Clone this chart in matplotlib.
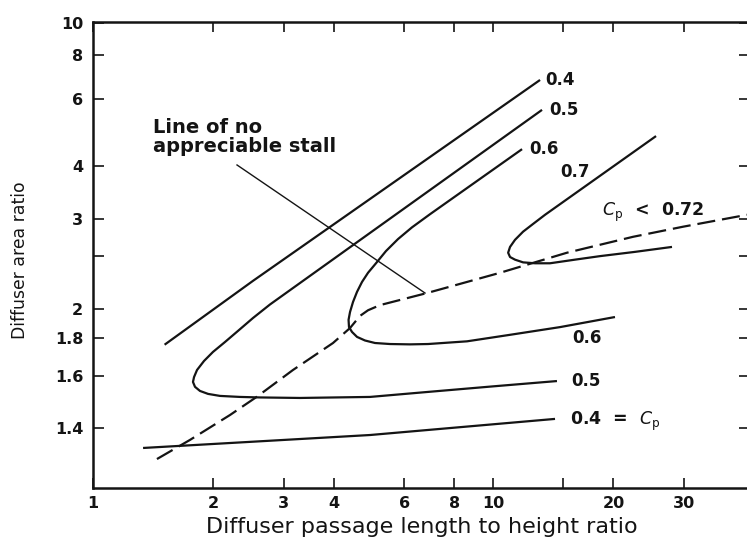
import numpy as np
import matplotlib
matplotlib.use("Agg")
import matplotlib.pyplot as plt
from matplotlib.ticker import FixedLocator, FixedFormatter, NullLocator

plt.rcParams['lines.scale_dashes'] = False
plt.rcParams['font.family'] = ['DejaVu Sans']
plt.rcParams['mathtext.fontset'] = 'dejavusans'

# ---------------- data ----------------
# Cp = 0.4 upper branch
cp04_up_x = [1.51, 2.51, 13.11]
cp04_up_y = [1.76, 2.24, 6.80]
# Cp = 0.5 (upper branch -> nose -> lower branch)
cp05_x = [13.26, 2.77, 2.512, 2.304, 2.138, 1.995, 1.895, 1.820, 1.789, 1.778, 1.799, 1.851,
          1.939, 2.077, 2.331, 2.615, 3.292, 4.927, 6.88, 10.0, 14.45]
cp05_y = [5.61, 2.035, 1.933, 1.845, 1.776, 1.719, 1.671, 1.626, 1.593, 1.571, 1.550, 1.533,
          1.521, 1.513, 1.509, 1.507, 1.505, 1.509, 1.529, 1.552, 1.575]
# Cp = 0.6
cp06_x = [11.82, 6.96, 6.27, 5.788, 5.401, 5.098, 4.870, 4.704, 4.571, 4.467, 4.391, 4.354,
          4.365, 4.442, 4.571, 4.786, 5.07, 5.527, 6.20, 6.88, 8.61, 11.03, 14.71, 20.18]
cp06_y = [4.41, 3.07, 2.87, 2.71, 2.56, 2.42, 2.32, 2.23, 2.14, 2.055, 1.977, 1.92,
          1.87, 1.838, 1.807, 1.785, 1.770, 1.764, 1.762, 1.764, 1.78, 1.82, 1.87, 1.94]
# Cp = 0.7
cp07_x = [25.56, 13.49, 12.59, 11.89, 11.35, 11.03, 10.91, 11.03, 11.35, 11.89, 12.74, 13.88,
          16.03, 18.51, 22.65, 28.02]
cp07_y = [4.77, 3.06, 2.92, 2.81, 2.70, 2.61, 2.54, 2.49, 2.46, 2.43, 2.42, 2.42,
          2.46, 2.50, 2.55, 2.61]
# Cp = 0.4 lower branch
cp04_lo_x = [1.334, 4.93, 14.29]
cp04_lo_y = [1.344, 1.38, 1.43]
# Line of no appreciable stall (dashed)
stall_x = [1.445, 1.748, 2.200, 2.570, 3.162, 3.981, 4.391, 4.651, 4.870, 5.218, 6.839, 10.41,
           15.31, 22.39, 29.85, 43.15]
stall_y = [1.316, 1.366, 1.443, 1.51, 1.626, 1.77, 1.864, 1.948, 1.99, 2.03, 2.13, 2.32,
           2.54, 2.74, 2.88, 3.06]
# leader line of the annotation
leader_x = [2.291, 6.761]
leader_y = [4.02, 2.13]

x_ticks = [1, 2, 3, 4, 6, 8, 10, 15, 20, 30]
x_labels = ['1', '2', '3', '4', '6', '8', '10', '', '20', '30']
y_ticks = [1.4, 1.6, 1.8, 2, 2.5, 3, 4, 6, 8, 10]
y_labels = ['1.4', '1.6', '1.8', '2', '', '3', '4', '6', '8', '10']

# ---------------- figure ----------------
W, H = 747, 541
fig = plt.figure(figsize=(W / 100, H / 100), dpi=100)
ax = fig.add_axes([93 / W, 1 - 488 / H, (750 - 93) / W, (488 - 22) / H])


def fwd(y):
    y = np.asarray(y, dtype=float)
    return np.log10(np.maximum(y - 1.0, 1e-9))


def inv(v):
    return 10 ** np.asarray(v, dtype=float) + 1.0


ax.set_xscale('log')
ax.set_yscale('function', functions=(fwd, inv))
ax.set_xlim(1, 43.9)
ax.set_ylim(1.253, 10.05)

ink = '#141414'
lw = 1.6
common = dict(color=ink, lw=lw, solid_joinstyle='round', solid_capstyle='butt')
ax.plot(cp04_up_x, cp04_up_y, **common)
ax.plot(cp05_x, cp05_y, **common)
ax.plot(cp06_x, cp06_y, **common)
ax.plot(cp07_x, cp07_y, **common)
ax.plot(cp04_lo_x, cp04_lo_y, **common)
ax.plot(stall_x, stall_y, color=ink, lw=1.6, ls=(0, (13, 5)))
ax.plot(leader_x, leader_y, color=ink, lw=1.0)

lab = dict(fontsize=12, fontweight='bold', color=ink, va='center', ha='left')
ax.annotate('0.4', xy=(cp04_up_x[-1], cp04_up_y[-1]), xytext=(4, 0), textcoords='offset points', **lab)
ax.annotate('0.5', xy=(cp05_x[0], cp05_y[0]), xytext=(5, 0), textcoords='offset points', **lab)
ax.annotate('0.6', xy=(cp06_x[0], cp06_y[0]), xytext=(5, 0), textcoords='offset points', **lab)
ax.text(14.71, 3.86, '0.7', **lab)
ax.text(15.76, 1.80, '0.6', **lab)
ax.annotate('0.5', xy=(cp05_x[-1], cp05_y[-1]), xytext=(10, 0), textcoords='offset points', **lab)
lab2 = dict(lab)
lab2['fontsize'] = 12.5
ax.annotate('0.4  =  $C_\\mathrm{p}$', xy=(cp04_lo_x[-1], cp04_lo_y[-1]), xytext=(11, -1.5),
            textcoords='offset points', **lab2)
ax.text(18.69, 3.10, '$C_\\mathrm{p}$  <  0.72', **lab2)
ax.text(1.413, 4.74, 'Line of no\nappreciable stall', fontsize=14, fontweight='bold',
        color=ink, ha='left', va='center', linespacing=0.95)

# axes / ticks
ax.xaxis.set_major_locator(FixedLocator(x_ticks))
ax.xaxis.set_major_formatter(FixedFormatter(x_labels))
ax.xaxis.set_minor_locator(NullLocator())
ax.yaxis.set_major_locator(FixedLocator(y_ticks))
ax.yaxis.set_major_formatter(FixedFormatter(y_labels))
ax.yaxis.set_minor_locator(NullLocator())

ax.tick_params(axis='both', which='major', direction='in', top=True, right=True,
               width=1.2, color=ink, labelsize=11.5, labelcolor=ink)
ax.tick_params(axis='x', pad=6, length=7)
ax.tick_params(axis='y', pad=7, length=8)
for t in ax.get_xticklabels() + ax.get_yticklabels():
    t.set_fontweight('bold')

for side in ['left', 'bottom', 'top', 'right']:
    ax.spines[side].set_linewidth(1.8)
    ax.spines[side].set_color(ink)

ax.set_xlabel('Diffuser passage length to height ratio', fontsize=16, color=ink, labelpad=4)
ax.set_ylabel('Diffuser area ratio', fontsize=12.4, color=ink,
              family=['Liberation Sans Narrow', 'DejaVu Sans'])
ax.yaxis.set_label_coords((29 - 93) / 657, (488 - 260) / 466)

fig.savefig('out.png', dpi=100, facecolor='white')
